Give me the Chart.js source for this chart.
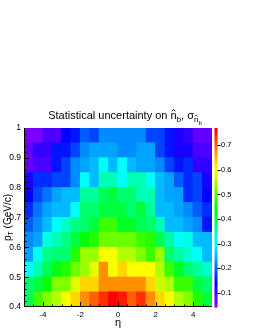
<!DOCTYPE html>
<html>
<head>
<meta charset="utf-8">
<script src="https://cdn.jsdelivr.net/npm/chart.js@4.4.1/dist/chart.umd.min.js"></script>
<style>
	html, body { margin: 0; padding: 0; background: #fff; }
	#wrap { width: 255px; height: 330px; }
</style>
</head>
<body>
<div id="wrap"><canvas id="uncertChart" width="255" height="330"></canvas></div>
<script>
// bin centres in eta and bin edges in pT
const etaCenters = [-4.75, -4.25, -3.75, -3.25, -2.75, -2.25, -1.75, -1.25, -0.75, -0.25,
	0.25, 0.75, 1.25, 1.75, 2.25, 2.75, 3.25, 3.75, 4.25, 4.75];
const ptEdges = [0.40, 0.45, 0.50, 0.55, 0.60, 0.65, 0.70, 0.75, 0.80, 0.85, 0.90, 0.95, 1.00];

// statistical uncertainty, one array per pT bin, read along eta
const sigmaPt040 = [0.40, 0.49, 0.53, 0.56, 0.60, 0.63, 0.67, 0.70, 0.74, 0.77, 0.75, 0.70, 0.74, 0.67, 0.63, 0.60, 0.56, 0.53, 0.47, 0.41];
const sigmaPt045 = [0.38, 0.42, 0.46, 0.53, 0.53, 0.59, 0.63, 0.63, 0.67, 0.67, 0.67, 0.67, 0.67, 0.63, 0.57, 0.56, 0.49, 0.48, 0.41, 0.39];
const sigmaPt050 = [0.30, 0.34, 0.40, 0.44, 0.47, 0.51, 0.55, 0.59, 0.67, 0.60, 0.63, 0.60, 0.60, 0.60, 0.56, 0.48, 0.43, 0.39, 0.36, 0.33];
const sigmaPt055 = [0.245, 0.30, 0.37, 0.38, 0.39, 0.47, 0.54, 0.55, 0.60, 0.60, 0.56, 0.56, 0.53, 0.48, 0.54, 0.39, 0.36, 0.33, 0.30, 0.26];
const sigmaPt060 = [0.225, 0.245, 0.31, 0.34, 0.37, 0.42, 0.44, 0.47, 0.51, 0.51, 0.52, 0.52, 0.48, 0.47, 0.40, 0.36, 0.30, 0.31, 0.26, 0.25];
const sigmaPt065 = [0.19, 0.225, 0.25, 0.30, 0.33, 0.37, 0.38, 0.42, 0.49, 0.49, 0.43, 0.43, 0.40, 0.38, 0.34, 0.26, 0.25, 0.245, 0.225, 0.157];
const sigmaPt070 = [0.17, 0.21, 0.235, 0.26, 0.26, 0.30, 0.38, 0.39, 0.42, 0.41, 0.42, 0.39, 0.42, 0.35, 0.26, 0.26, 0.245, 0.225, 0.196, 0.168];
const sigmaPt075 = [0.136, 0.175, 0.206, 0.245, 0.253, 0.253, 0.35, 0.35, 0.40, 0.42, 0.39, 0.39, 0.34, 0.34, 0.253, 0.235, 0.235, 0.168, 0.175, 0.136];
const sigmaPt080 = [0.126, 0.168, 0.168, 0.186, 0.186, 0.225, 0.30, 0.253, 0.34, 0.34, 0.30, 0.34, 0.34, 0.30, 0.253, 0.235, 0.196, 0.168, 0.175, 0.126];
const sigmaPt085 = [0.079, 0.098, 0.098, 0.147, 0.186, 0.225, 0.235, 0.253, 0.30, 0.253, 0.30, 0.253, 0.245, 0.235, 0.225, 0.186, 0.157, 0.168, 0.108, 0.108];
const sigmaPt090 = [0.079, 0.108, 0.108, 0.147, 0.147, 0.186, 0.225, 0.245, 0.245, 0.245, 0.225, 0.225, 0.245, 0.235, 0.186, 0.157, 0.118, 0.118, 0.087, 0.087];
const sigmaPt095 = [0.069, 0.069, 0.098, 0.098, 0.136, 0.157, 0.196, 0.186, 0.225, 0.23, 0.23, 0.23, 0.225, 0.186, 0.186, 0.157, 0.118, 0.11, 0.079, 0.079];

const sigmaRows = [sigmaPt040, sigmaPt045, sigmaPt050, sigmaPt055, sigmaPt060, sigmaPt065,
	sigmaPt070, sigmaPt075, sigmaPt080, sigmaPt085, sigmaPt090, sigmaPt095];

// tick labels
const xTickValues = [-4, -2, 0, 2, 4];
const yTickValues = [0.4, 0.5, 0.6, 0.7, 0.8, 0.9, 1.0];
const zTickValues = [0.1, 0.2, 0.3, 0.4, 0.5, 0.6, 0.7];

// colour scale range (violet -> red, 50 steps)
const Z_MIN = 0.043;
const Z_MAX = 0.77;
const N_COLORS = 50;
const FONT = "'Liberation Sans', Arial, Helvetica, sans-serif";

function paletteHue(i) {
	return 280 - (i + 1) * (280 / N_COLORS);
}

function paletteColor(v) {
	let i = Math.floor((v - Z_MIN) / (Z_MAX - Z_MIN) * N_COLORS);
	i = Math.max(0, Math.min(N_COLORS - 1, i));
	return 'hsl(' + paletteHue(i) + ',100%,50%)';
}

const datasets = sigmaRows.map(function(row, r) {
	return {
		data: etaCenters.map(function(eta, i) {
			return { x: eta, y: [ptEdges[r], ptEdges[r + 1]], v: row[i] };
		}),
		backgroundColor: function(ctx) {
			return ctx.raw ? paletteColor(ctx.raw.v) : 'rgba(0,0,0,0)';
		},
		borderWidth: 0,
		inflateAmount: 0.5,
		grouped: false,
		barPercentage: 1,
		categoryPercentage: 1
	};
});

// letter with a small hat above it, returns advance width
function hatLetter(ctx, ch, x, y, size) {
	ctx.font = size + 'px ' + FONT;
	const w = ctx.measureText(ch).width;
	ctx.fillText(ch, x, y);
	const top = y - size * 0.62;
	ctx.beginPath();
	ctx.moveTo(x + w * 0.22, top - size * 0.08);
	ctx.lineTo(x + w * 0.5, top - size * 0.26);
	ctx.lineTo(x + w * 0.78, top - size * 0.08);
	ctx.lineWidth = Math.max(0.7, size * 0.075);
	ctx.stroke();
	return w;
}

// ROOT-like decorations: inward ticks, axis lines, colour bar, titles
const rootStyle = {
	id: 'rootStyle',
	afterDatasetsDraw: function(chart) {
		const ctx = chart.ctx;
		const a = chart.chartArea;
		const xs = chart.scales.x, ys = chart.scales.y, zs = chart.scales.z;
		ctx.save();

		// colour bar
		const step = (Z_MAX - Z_MIN) / N_COLORS;
		for (let i = 0; i < N_COLORS; i++) {
			const y0 = zs.getPixelForValue(Z_MIN + i * step);
			const y1 = zs.getPixelForValue(Z_MIN + (i + 1) * step);
			ctx.fillStyle = 'hsl(' + paletteHue(i) + ',100%,50%)';
			ctx.fillRect(a.right + 2.5, y1, 3, y0 - y1 + 0.6);
		}

		ctx.strokeStyle = '#000';
		ctx.lineWidth = 1;
		ctx.beginPath();
		// colour bar ticks
		zTickValues.forEach(function(v) {
			const y = Math.round(zs.getPixelForValue(v)) + 0.5;
			ctx.moveTo(a.right + 5.5, y);
			ctx.lineTo(a.right + 8.5, y);
		});
		// axis lines
		ctx.moveTo(a.left + 0.5, a.top);
		ctx.lineTo(a.left + 0.5, a.bottom);
		ctx.moveTo(a.left, a.bottom - 0.5);
		ctx.lineTo(a.right, a.bottom - 0.5);
		// x ticks (inside)
		for (let v = -4.5; v < 5; v += 0.5) {
			const px = Math.round(xs.getPixelForValue(v)) + 0.5;
			const len = (Math.abs(v % 2) < 1e-9) ? 5 : 2.5;
			ctx.moveTo(px, a.bottom);
			ctx.lineTo(px, a.bottom - len);
		}
		// y ticks (inside)
		for (let k = 1; k < 30; k++) {
			const v = 0.4 + k * 0.02;
			const py = Math.round(ys.getPixelForValue(v)) + 0.5;
			const len = (k % 5 === 0) ? 5 : 2.5;
			ctx.moveTo(a.left, py);
			ctx.lineTo(a.left + len, py);
		}
		ctx.stroke();
		ctx.restore();
	},
	afterDraw: function(chart) {
		const ctx = chart.ctx;
		const a = chart.chartArea;
		ctx.save();
		ctx.fillStyle = '#000';
		ctx.strokeStyle = '#000';
		ctx.textBaseline = 'alphabetic';

		// main title with hats and sub-scripts
		const base = 119;
		const lead = 'Statistical uncertainty on ';
		ctx.font = '11px ' + FONT;
		const leadW = ctx.measureText(lead).width;
		const nW = ctx.measureText('n').width;
		const commaW = ctx.measureText(', \u03c3').width;
		ctx.font = '8px ' + FONT;
		const bW = ctx.measureText('b').width;
		const nSW = ctx.measureText('n').width;
		ctx.font = '6px ' + FONT;
		const bTW = ctx.measureText('b').width;
		const total = leadW + nW + bW + commaW + nSW + bTW;
		let x = 125 - total / 2;
		ctx.font = '11px ' + FONT;
		ctx.fillText(lead, x, base);
		x += leadW;
		x += hatLetter(ctx, 'n', x, base, 11);
		ctx.font = '8px ' + FONT;
		ctx.fillText('b', x, base + 3);
		x += bW;
		ctx.font = '11px ' + FONT;
		ctx.fillText(', \u03c3', x, base);
		x += commaW;
		x += hatLetter(ctx, 'n', x, base + 3, 8);
		ctx.font = '6px ' + FONT;
		ctx.fillText('b', x, base + 5.5);

		// y axis title, rotated and centred on the axis
		ctx.font = '10px ' + FONT;
		const pW = ctx.measureText('p').width;
		const restW = ctx.measureText(' (GeV/c)').width;
		ctx.font = '7px ' + FONT;
		const tW = ctx.measureText('T').width;
		const len = pW + tW + restW;
		ctx.translate(10.5, (a.top + a.bottom) / 2 + len / 2);
		ctx.rotate(-Math.PI / 2);
		ctx.font = '10px ' + FONT;
		ctx.fillText('p', 0, 0);
		ctx.font = '7px ' + FONT;
		ctx.fillText('T', pW, 2.5);
		ctx.font = '10px ' + FONT;
		ctx.fillText(' (GeV/c)', pW + tW, 0);
		ctx.restore();
	}
};

function initUncertChart() {
	const c = document.getElementById('uncertChart').getContext('2d');
	new Chart(c, {
		type: 'bar',
		data: { datasets: datasets },
		options: {
			responsive: false,
			animation: false,
			layout: { padding: { top: 128, left: 0, right: 0, bottom: 0 } },
			plugins: {
				legend: { display: false },
				title: { display: false },
				tooltip: { enabled: false }
			},
			scales: {
				x: {
					type: 'linear',
					min: -5,
					max: 5,
					offset: false,
					grid: { display: false, drawTicks: false, offset: false },
					border: { display: false },
					afterBuildTicks: function(s) { s.ticks = xTickValues.map(function(v) { return { value: v }; }); },
					afterFit: function(s) { s.height = 23; },
					ticks: {
						autoSkip: false,
						maxRotation: 0,
						padding: 3,
						color: '#000',
						font: { family: FONT, size: 8 }
					},
					title: {
						display: true,
						text: '\u03b7',
						color: '#000',
						padding: 0,
						font: { family: FONT, size: 11 }
					}
				},
				y: {
					type: 'linear',
					min: 0.4,
					max: 1.0,
					grid: { display: false, drawTicks: false },
					border: { display: false },
					afterBuildTicks: function(s) { s.ticks = yTickValues.map(function(v) { return { value: v }; }); },
					afterFit: function(s) { s.width = 24; },
					ticks: {
						padding: 3,
						color: '#000',
						font: { family: FONT, size: 8.5 },
						callback: function(value) { return String(Math.round(value * 10) / 10); }
					}
				},
				z: {
					type: 'linear',
					position: 'right',
					min: Z_MIN,
					max: Z_MAX,
					grid: { display: false, drawTicks: false },
					border: { display: false },
					afterBuildTicks: function(s) { s.ticks = zTickValues.map(function(v) { return { value: v }; }); },
					afterFit: function(s) { s.width = 43; },
					ticks: {
						padding: 9,
						color: '#000',
						font: { family: FONT, size: 7.5 },
						callback: function(value) { return String(Math.round(value * 10) / 10); }
					}
				}
			}
		},
		plugins: [rootStyle]
	});
}

document.addEventListener('DOMContentLoaded', initUncertChart);
</script>
</body>
</html>
